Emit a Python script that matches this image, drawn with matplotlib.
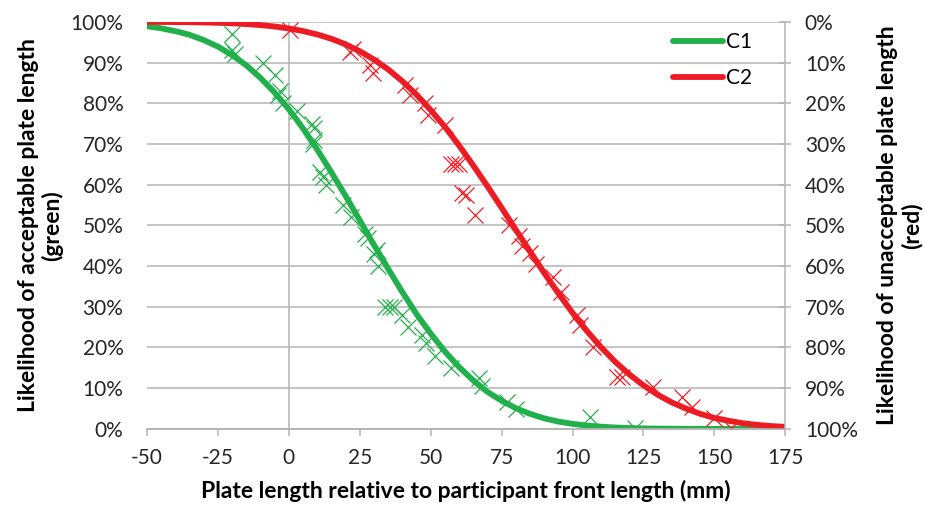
import numpy as np
import matplotlib
matplotlib.use('Agg')
import matplotlib.pyplot as plt

plt.rcParams['font.family'] = ['Lato', 'DejaVu Sans']
plt.rcParams['axes.unicode_minus'] = False

green = '#21B04B'
red = '#ED1C24'
grid_col = '#B4B4B4'

# fitted curves, every 5 mm
curve_x = list(range(-50, 180, 5))
c1_curve = [98.9, 98.4, 97.7, 96.8, 95.5, 93.9, 91.8, 89.3, 86.2, 82.6,
            78.5, 73.8, 68.6, 63.0, 57.2, 51.2, 45.2, 39.3, 33.6, 28.2,
            23.4, 19.0, 15.2, 11.9, 9.1, 6.9, 5.1, 3.7, 2.6, 1.8,
            1.25, 0.83, 0.55, 0.35, 0.22, 0.13, 0.08, 0.05, 0.03, 0.02,
            0.01, 0.01, 0.0, 0.0, 0.0, 0.0]
# C2 is read on the right (inverted) axis: unacceptable %
c2_curve = [0.02, 0.04, 0.07, 0.10, 0.16, 0.25, 0.37, 0.55, 0.81, 1.16,
            1.64, 2.28, 3.11, 4.18, 5.54, 7.23, 9.27, 11.7, 14.6, 17.9,
            21.7, 25.8, 30.4, 35.3, 40.4, 45.7, 51.1, 56.4, 61.7, 66.7,
            71.5, 75.9, 79.9, 83.5, 86.6, 89.3, 91.6, 93.5, 95.0, 96.3,
            97.3, 98.0, 98.6, 99.0, 99.3, 99.5]

# observed points
c1_x = [-20, -20, -19, -9, -5, -3, -4, -2, 3, 8, 9, 9, 8.5, 11, 12, 13,
        19, 22, 27, 28, 31, 30, 31.5, 34, 35.5, 37, 40, 42, 47, 48.5,
        51.5, 57, 67, 68, 77, 80, 106, 122]
c1_y = [97, 93, 92, 90, 87, 83, 82, 80, 78, 75, 74, 71, 70, 63, 62, 60,
        55, 52, 48, 47, 44, 43, 40, 30, 30, 30, 28, 25, 23, 21,
        18, 15, 12.5, 10.5, 6.7, 5, 3, 0.3]

c2_x = [0.5, 21.5, 22.5, 28.5, 29.5, 41, 42.7, 48, 49, 55, 57, 58.5, 60,
        61, 62.5, 65.6, 77.5, 81, 82, 85, 87, 93, 96, 101.5, 102.5, 107.3,
        115.5, 117.5, 128.5, 138.5, 142, 150, 156]
c2_y = [2, 7.5, 6.8, 10.5, 12.6, 15.5, 18, 20, 22.8, 25.3, 35, 35, 35,
        42, 42.5, 47.4, 49.8, 52.5, 55, 56.8, 59.5, 62.8, 66.3, 72, 74.5, 79.8,
        87.3, 87.3, 89.8, 92.1, 94.5, 97.4, 99.8]

x_ticks = [-50, -25, 0, 25, 50, 75, 100, 125, 150, 175]
y_ticks = list(range(0, 101, 10))

fig = plt.figure(figsize=(9.25, 5.07), dpi=100)
ax = fig.add_axes([0.159, 0.154, 0.690, 0.803])
ax2 = ax.twinx()

ax.plot(c1_x, c1_y, linestyle='none', marker='x', ms=11, mew=0.9, color=green)
l1, = ax.plot(curve_x, c1_curve, color=green, lw=4.2, solid_capstyle='round', label='C1')
ax2.plot(c2_x, c2_y, linestyle='none', marker='x', ms=11, mew=0.9, color=red)
l2, = ax2.plot(curve_x, c2_curve, color=red, lw=4.2, solid_capstyle='round', label='C2')

ax.set_xlim(-50, 175)
ax.set_ylim(0, 100)
ax2.set_ylim(100, 0)
ax.set_xticks(x_ticks)
ax.set_yticks(y_ticks)
ax2.set_yticks(y_ticks)
ax.set_yticklabels(['%d%%' % v for v in y_ticks])
ax2.set_yticklabels(['%d%%' % v for v in y_ticks])

ax.grid(axis='y', color=grid_col, lw=1.1)
ax.set_axisbelow(True)
ax.axvline(0, color=grid_col, lw=1.1, zorder=0.5)

for a in (ax, ax2):
    a.spines['top'].set_visible(False)
    a.spines['left'].set_visible(False)
    a.spines['right'].set_visible(False)
    a.spines['bottom'].set_color(grid_col)
    a.spines['bottom'].set_linewidth(1.1)
ax2.spines['right'].set_visible(True)
ax2.spines['right'].set_color(grid_col)
ax2.spines['right'].set_linewidth(1.1)

ax.tick_params(axis='x', direction='out', length=5, width=1.1, color=grid_col,
               labelsize=15, pad=9, labelcolor='#262626')
ax.tick_params(axis='y', length=0, labelsize=15, pad=17, labelcolor='#262626')
ax2.tick_params(axis='y', direction='inout', length=8, width=1.1, color=grid_col,
                labelsize=15, pad=10, labelcolor='#262626')

ax.set_xlabel('Plate length relative to participant front length (mm)',
              fontsize=16.5, fontweight='bold', labelpad=8)
ax.set_ylabel('Likelihood of acceptable plate length\n(green)',
              fontsize=16.5, fontweight='bold', labelpad=5, linespacing=1.15)
ax2.set_ylabel('Likelihood of unacceptable plate length\n(red)',
               fontsize=16.5, fontweight='bold', labelpad=14, linespacing=1.15)

ax2.legend(handles=[l1, l2], loc='upper right', bbox_to_anchor=(0.977, 1.02),
           frameon=False, fontsize=15, handlelength=2.4, handletextpad=0.15,
           labelspacing=0.75)

fig.savefig('out.png', dpi=100)
